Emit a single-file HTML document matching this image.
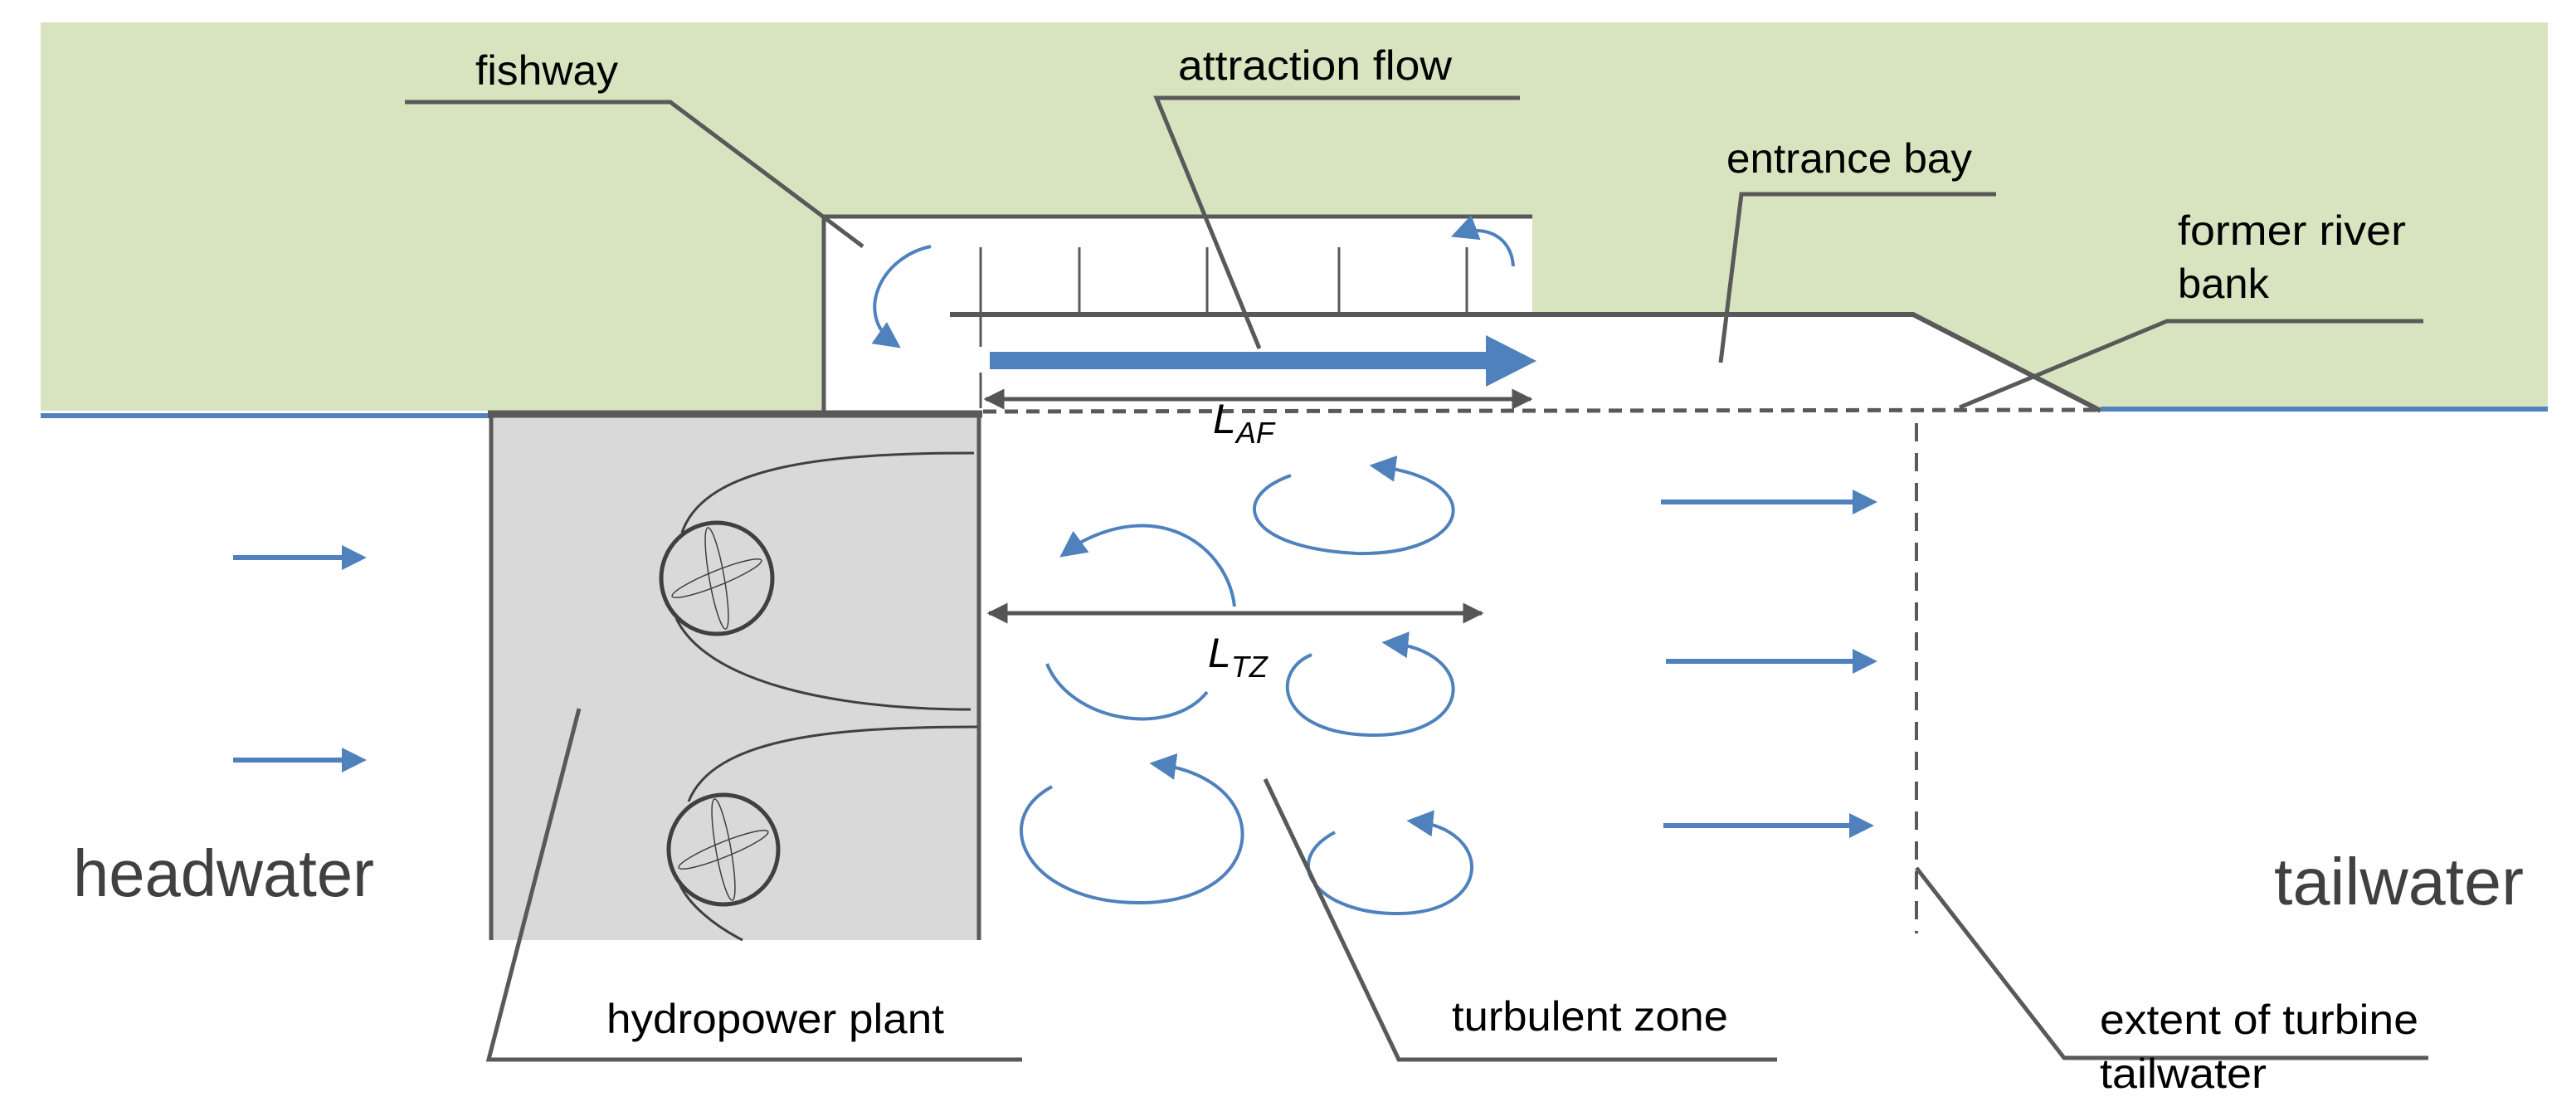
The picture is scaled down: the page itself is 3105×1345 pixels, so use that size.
<!DOCTYPE html>
<html><head><meta charset="utf-8"><style>html,body{margin:0;padding:0;background:#fff}svg{display:block}</style></head>
<body>
<svg width="3105" height="1345" viewBox="0 0 3105 1345" xmlns="http://www.w3.org/2000/svg" font-family="'Liberation Sans Narrow','Liberation Sans',sans-serif">
<defs>
<marker id="bh" viewBox="0 0 10 10" refX="8" refY="5" markerWidth="5" markerHeight="5" orient="auto" markerUnits="strokeWidth"><path d="M0,0 L10,5 L0,10 z" fill="#4f81bd"/></marker>
<marker id="bh2" viewBox="0 0 10 10" refX="7" refY="5" markerWidth="8" markerHeight="8" orient="auto" markerUnits="strokeWidth"><path d="M0,0 L10,5 L0,10 z" fill="#4f81bd"/></marker>
<marker id="gh" viewBox="0 0 10 10" refX="9" refY="5" markerWidth="5" markerHeight="5" orient="auto-start-reverse" markerUnits="strokeWidth"><path d="M0,0 L10,5 L0,10 z" fill="#555"/></marker>
</defs>
<polygon points="49,27 3071,27 3071,495 2532,495 2306,379 1847,379 1847,261 993,261 993,495 49,495" fill="#d8e3bf"/>
<polyline points="993,495 993,261 1847,261" fill="none" stroke="#595959" stroke-width="5"/>
<polyline points="1145,379 2306,379 2532,495" fill="none" stroke="#595959" stroke-width="6"/>
<g stroke="#595959" stroke-width="3">
<line x1="1182" y1="298" x2="1182" y2="418"/><line x1="1182" y1="449" x2="1182" y2="492"/>
<line x1="1301" y1="298" x2="1301" y2="379"/><line x1="1455" y1="298" x2="1455" y2="379"/>
<line x1="1614" y1="298" x2="1614" y2="379"/><line x1="1768" y1="298" x2="1768" y2="379"/>
</g>
<line x1="49" y1="501" x2="592" y2="501" stroke="#4f81bd" stroke-width="6"/>
<line x1="2532" y1="493" x2="3071" y2="493" stroke="#4f81bd" stroke-width="6"/>
<line x1="1185" y1="496" x2="2532" y2="494" stroke="#595959" stroke-width="5" stroke-dasharray="16,10"/>
<line x1="2310" y1="510" x2="2310" y2="1125" stroke="#595959" stroke-width="4" stroke-dasharray="22,14"/>
<polygon points="1193,424 1791,424 1791,404 1852,435 1791,466 1791,445 1193,445" fill="#4f81bd"/>
<line x1="1188" y1="481" x2="1845" y2="481" stroke="#555" stroke-width="5" marker-start="url(#gh)" marker-end="url(#gh)"/>
<rect x="592" y="499" width="588" height="634" fill="#d9d9d9"/>
<polyline points="592,1133 592,499 1180,499 1180,1133" fill="none" stroke="#595959" stroke-width="5"/>
<line x1="588" y1="499" x2="1184" y2="499" stroke="#595959" stroke-width="9"/>
<g fill="none" stroke="#404040" stroke-width="3">
<path d="M822,642 C850,560 1000,546 1174,546"/>
<path d="M815,745 C850,820 1000,855 1170,855"/>
<path d="M830,966 C860,890 1000,876 1178,876"/>
<path d="M819,1065 C830,1090 860,1115 895,1133"/>
<circle cx="864" cy="697" r="67" stroke-width="5"/>
<circle cx="872" cy="1024" r="66" stroke-width="5"/>
<g stroke-width="1.5">
<ellipse cx="864" cy="697" rx="9" ry="62" transform="rotate(-10 864 697)"/>
<ellipse cx="864" cy="697" rx="58" ry="9" transform="rotate(-22 864 697)"/>
<ellipse cx="872" cy="1024" rx="9" ry="62" transform="rotate(-10 872 1024)"/>
<ellipse cx="872" cy="1024" rx="58" ry="9" transform="rotate(-22 872 1024)"/>
</g>
</g>
<line x1="281" y1="672" x2="436" y2="672" stroke="#4f81bd" stroke-width="6" marker-end="url(#bh)"/>
<line x1="281" y1="916" x2="436" y2="916" stroke="#4f81bd" stroke-width="6" marker-end="url(#bh)"/>
<line x1="2002" y1="605" x2="2257" y2="605" stroke="#4f81bd" stroke-width="6" marker-end="url(#bh)"/>
<line x1="2008" y1="797" x2="2257" y2="797" stroke="#4f81bd" stroke-width="6" marker-end="url(#bh)"/>
<line x1="2005" y1="995" x2="2253" y2="995" stroke="#4f81bd" stroke-width="6" marker-end="url(#bh)"/>
<line x1="1192" y1="739" x2="1786" y2="739" stroke="#555" stroke-width="5" marker-start="url(#gh)" marker-end="url(#gh)"/>
<g fill="none" stroke="#4f81bd" stroke-width="4">
<path d="M1556,573 C1480,600 1500,660 1635,667 C1770,670 1800,580 1660,562" marker-end="url(#bh2)"/>
<path d="M1488,731 C1480,660 1400,600 1300,655 L1285,666" marker-end="url(#bh2)"/>
<path d="M1262,800 C1290,870 1410,890 1455,834"/>
<path d="M1581,789 C1530,810 1540,886 1657,886 C1780,885 1780,785 1675,775" marker-end="url(#bh2)"/>
<path d="M1268,948 C1190,990 1240,1088 1373,1088 C1530,1088 1540,940 1395,921" marker-end="url(#bh2)"/>
<path d="M1609,1003 C1540,1040 1590,1102 1686,1101 C1800,1100 1800,1000 1705,990" marker-end="url(#bh2)"/>
<path d="M1122,297 C1060,310 1030,380 1078,414" marker-end="url(#bh2)"/>
<path d="M1824,321 C1822,285 1790,270 1758,282" marker-end="url(#bh2)"/>
</g>
<g fill="none" stroke="#595959" stroke-width="5">
<polyline points="488,123 808,123 1040,297"/>
<polyline points="1832,118 1394,118 1518,420"/>
<polyline points="2406,234 2099,234 2074,437"/>
<polyline points="2921,387 2612,387 2362,491"/>
<polyline points="698,854 589,1277 1232,1277"/>
<polyline points="1525,939 1686,1277 2142,1277"/>
<polyline points="2310,1046 2488,1275 2927,1275"/>
</g>
<g fill="#000" font-size="50">
<text x="573" y="102" textLength="172" lengthAdjust="spacingAndGlyphs">fishway</text>
<text x="1420" y="96" textLength="330" lengthAdjust="spacingAndGlyphs">attraction flow</text>
<text x="2081" y="208" textLength="296" lengthAdjust="spacingAndGlyphs">entrance bay</text>
<text x="2625" y="295" textLength="275" lengthAdjust="spacingAndGlyphs">former river</text>
<text x="2625" y="359" textLength="110" lengthAdjust="spacingAndGlyphs">bank</text>
<text x="731" y="1245" textLength="407" lengthAdjust="spacingAndGlyphs">hydropower plant</text>
<text x="1750" y="1242" textLength="333" lengthAdjust="spacingAndGlyphs">turbulent zone</text>
<text x="2531" y="1246" textLength="384" lengthAdjust="spacingAndGlyphs">extent of turbine</text>
<text x="2531" y="1311" textLength="201" lengthAdjust="spacingAndGlyphs">tailwater</text>
<text x="1462" y="522" font-style="italic">L<tspan font-size="36" dy="12">AF</tspan></text>
<text x="1456" y="804" font-style="italic">L<tspan font-size="36" dy="12">TZ</tspan></text>
</g>
<text x="88" y="1080" font-size="80" fill="#404040" textLength="363" lengthAdjust="spacingAndGlyphs">headwater</text>
<text x="2741" y="1090" font-size="80" fill="#404040" textLength="301" lengthAdjust="spacingAndGlyphs">tailwater</text>
</svg>
</body></html>
